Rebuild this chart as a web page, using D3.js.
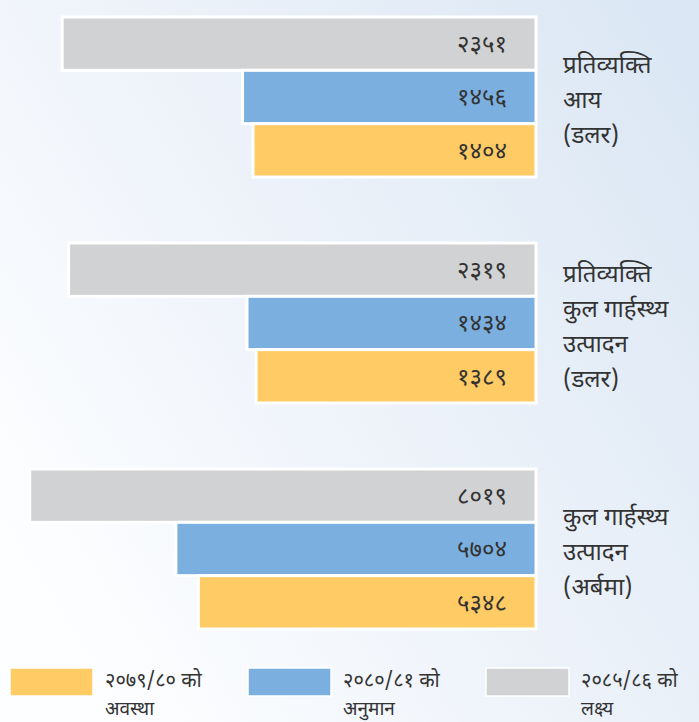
<!DOCTYPE html>
<html>
<head>
<meta charset="utf-8">
<script src="https://cdn.jsdelivr.net/npm/d3@7"></script>
<style>
  html, body { margin: 0; padding: 0; }
  body { width: 699px; height: 722px; overflow: hidden; }
  text { font-family: "Noto Sans Devanagari", "Noto Sans", "Lohit Devanagari", sans-serif; fill: #333333; }
</style>
</head>
<body>
<div id="chart"></div>
<script>
// category labels, one array of lines per group
var categories = [
  ["प्रतिव्यक्ति", "आय", "(डलर)"],
  ["प्रतिव्यक्ति", "कुल गार्हस्थ्य", "उत्पादन", "(डलर)"],
  ["कुल गार्हस्थ्य", "उत्पादन", "(अर्बमा)"]
];
var targetVals = [2351, 2319, 8019];    // 2085/86 target
var estimateVals = [1456, 1434, 5704];  // 2080/81 estimate
var statusVals = [1404, 1389, 5348];    // 2079/80 status
var scaleMax = [2600, 2600, 8300];      // each group drawn on its own scale

var seriesKeys = ["target", "estimate", "status"];
var legendKeys = ["status", "estimate", "target"];
var legendLabels = {
  status: ["२०७९/८० को", "अवस्था"],
  estimate: ["२०८०/८१ को", "अनुमान"],
  target: ["२०८५/८६ को", "लक्ष्य"]
};

var width = 699, height = 722;
var barRight = 536;

var color = d3.scaleOrdinal()
  .domain(seriesKeys)
  .range(["#d1d2d4", "#7aafdf", "#fecb64"]);

var deva = "०१२३४५६७८९";
function toDeva(n) {
  return String(n).replace(/[0-9]/g, function(c) { return deva[+c]; });
}

var svg = d3.select("#chart").append("svg")
  .attr("width", width)
  .attr("height", height);

// background gradient
var defs = svg.append("defs");
var grad = defs.append("linearGradient")
  .attr("id", "bg")
  .attr("x1", "0").attr("y1", "0.75")
  .attr("x2", "1").attr("y2", "0.1");
grad.append("stop").attr("offset", "0").attr("stop-color", "#fdfeff");
grad.append("stop").attr("offset", "0.45").attr("stop-color", "#eef3fa");
grad.append("stop").attr("offset", "1").attr("stop-color", "#dbe7f4");
svg.append("rect")
  .attr("width", width)
  .attr("height", height)
  .attr("fill", "url(#bg)");

var groups = categories.map(function(c, i) {
  return { i: i, lines: c, target: targetVals[i], estimate: estimateVals[i], status: statusVals[i] };
});

var y0 = d3.scaleBand()
  .domain(d3.range(groups.length))
  .range([17, 629])
  .paddingInner(0.292);

var y1 = d3.scaleBand()
  .domain(seriesKeys)
  .range([0, y0.bandwidth()]);

var g = svg.selectAll(".group")
  .data(groups)
  .enter()
  .append("g")
  .attr("class", "group")
  .attr("transform", function(d) { return "translate(0," + y0(d.i) + ")"; });

g.each(function(d) {
  var x = d3.scaleLinear().domain([0, scaleMax[d.i]]).range([0, barRight - 12]);
  var sel = d3.select(this);
  var bars = seriesKeys.map(function(k) { return { key: k, value: d[k] }; });

  sel.selectAll("rect")
    .data(bars)
    .enter()
    .append("rect")
    .attr("x", function(b) { return barRight - x(b.value); })
    .attr("y", function(b) { return y1(b.key); })
    .attr("width", function(b) { return x(b.value); })
    .attr("height", y1.bandwidth())
    .attr("fill", function(b) { return color(b.key); })
    .attr("stroke", "#ffffff")
    .attr("stroke-width", 3);

  sel.selectAll(".val")
    .data(bars)
    .enter()
    .append("text")
    .attr("class", "val")
    .attr("x", barRight - 29)
    .attr("y", function(b) { return y1(b.key) + y1.bandwidth() / 2; })
    .attr("dy", "0.35em")
    .attr("text-anchor", "end")
    .style("font-size", "24px")
    .text(function(b) { return toDeva(b.value); });

  // category label, centred on the group
  var lh = 35;
  var mid = y0.bandwidth() / 2 + 3;
  var top = mid - (d.lines.length - 1) * lh / 2;
  sel.selectAll(".cat")
    .data(d.lines)
    .enter()
    .append("text")
    .attr("class", "cat")
    .attr("x", 563)
    .attr("y", function(l, j) { return top + j * lh; })
    .attr("dy", "0.35em")
    .style("font-size", "24px")
    .text(function(l) { return l; });
});

// legend
var legend = svg.selectAll(".legend")
  .data(legendKeys)
  .enter()
  .append("g")
  .attr("class", "legend")
  .attr("transform", function(d, i) { return "translate(" + (10 + i * 238) + ",668)"; });

legend.append("rect")
  .attr("width", 83)
  .attr("height", 28)
  .attr("fill", function(d) { return color(d); })
  .attr("stroke", "#ffffff")
  .attr("stroke-width", 1.5);

legend.append("text")
  .attr("x", 95)
  .attr("y", 12)
  .attr("dy", "0.35em")
  .style("font-size", "20px")
  .text(function(d) { return legendLabels[d][0]; });

legend.append("text")
  .attr("x", 95)
  .attr("y", 40)
  .attr("dy", "0.35em")
  .style("font-size", "19px")
  .text(function(d) { return legendLabels[d][1]; });
</script>
</body>
</html>
